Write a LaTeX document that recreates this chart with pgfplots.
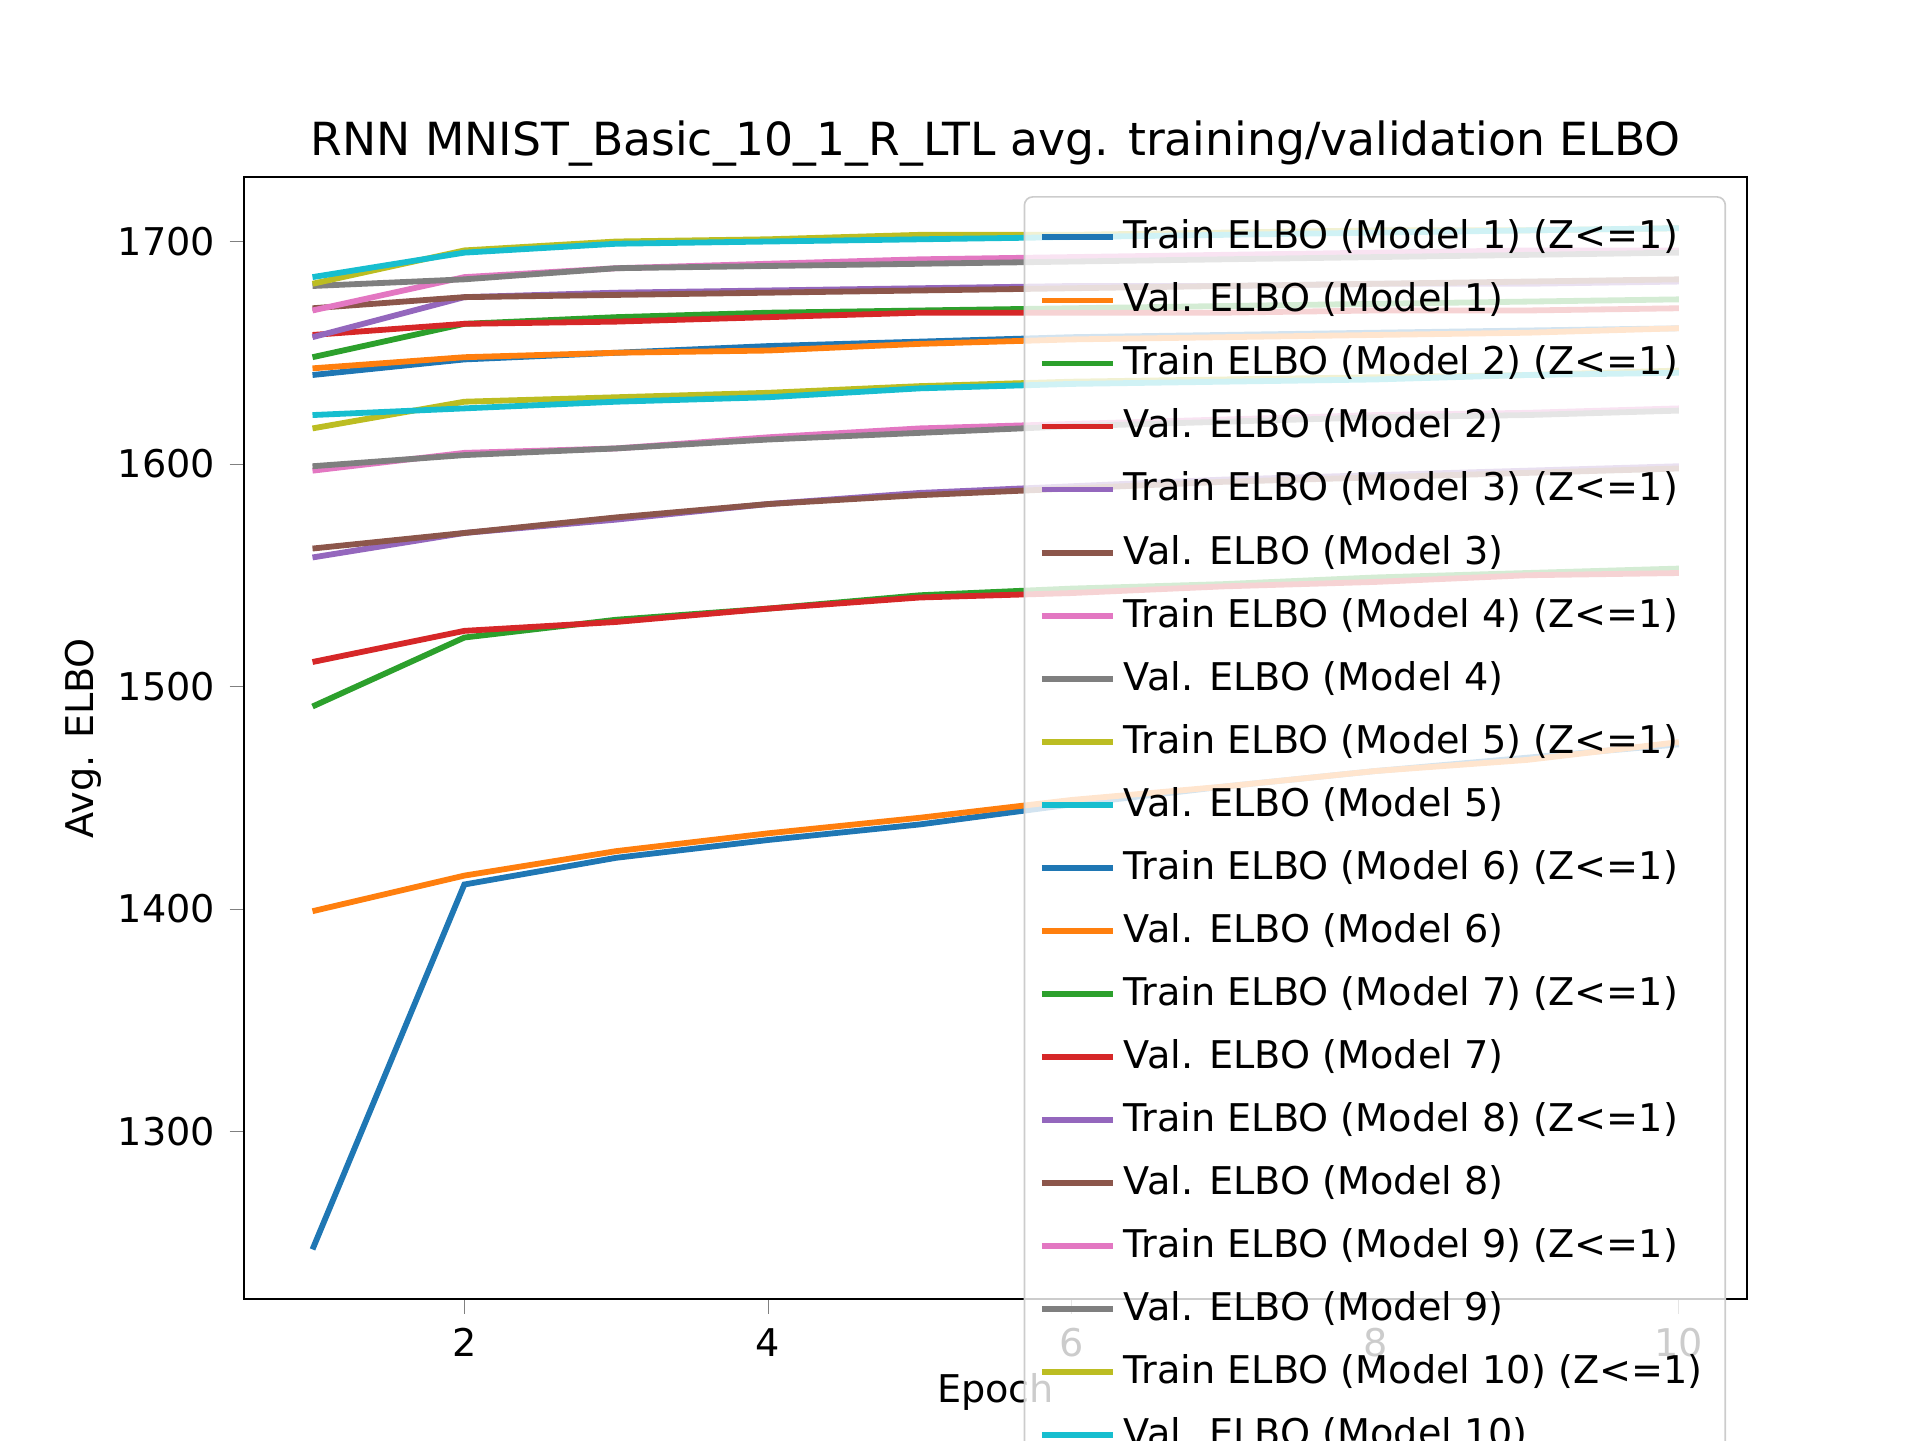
\documentclass[border=0pt]{standalone}
\usepackage{fontspec}
\setmainfont{DejaVu Sans}
\usepackage{pgfplots}
\pgfplotsset{compat=1.18}
\definecolor{c0}{HTML}{1F77B4}\definecolor{c1}{HTML}{FF7F0E}\definecolor{c2}{HTML}{2CA02C}
\definecolor{c3}{HTML}{D62728}\definecolor{c4}{HTML}{9467BD}\definecolor{c5}{HTML}{8C564B}
\definecolor{c6}{HTML}{E377C2}\definecolor{c7}{HTML}{7F7F7F}\definecolor{c8}{HTML}{BCBD22}
\definecolor{c9}{HTML}{17BECF}
\begin{document}
\begin{tikzpicture}
\begin{axis}[name=ax, scale only axis, width=5.01in, height=3.74in,
 xmin=0.55, xmax=10.45, ymin=1224.7, ymax=1729,
 xtick={2,4,6,8,10}, ytick={1300,1400,1500,1600,1700},
 /pgf/number format/assume math mode=true,
 /pgf/number format/1000 sep={},
 ticklabel style={font=\fontsize{9.2}{11}\selectfont},
 tick align=outside, tick pos=left, major tick length=3.5pt,
 title={RNN MNIST\_Basic\_10\_1\_R\_LTL avg. training/validation ELBO},
 title style={font=\fontsize{11}{13}\selectfont, yshift=-7pt},
 xlabel={Epoch}, ylabel={Avg. ELBO},
 xlabel style={yshift=3pt}, ylabel style={yshift=-3pt},
 label style={font=\fontsize{9.2}{11}\selectfont},
 every axis plot/.append style={line width=1.4pt},
 legend style={at={(0.986,0.983)}, anchor=north east, font=\fontsize{9.2}{11}\selectfont,
   fill=white, fill opacity=0.8, text opacity=1, draw=black!20, rounded corners=2pt,
   row sep=2.7pt, inner sep=3.5pt},
 legend cell align=left,
 legend image code/.code={\draw[#1] (0cm,0cm) -- (0.6cm,0cm);},
]
\addplot[c0] coordinates {(1,1640)(2,1647)(3,1650)(4,1653)(5,1655)(6,1657)(7,1658)(8,1659)(9,1660)(10,1661)};
\addlegendentry{Train ELBO (Model 1) (Z<=1)}
\addplot[c1] coordinates {(1,1643)(2,1648)(3,1650)(4,1651)(5,1654)(6,1656)(7,1657)(8,1658)(9,1659)(10,1661)};
\addlegendentry{Val. ELBO (Model 1)}
\addplot[c2] coordinates {(1,1648)(2,1663)(3,1666)(4,1668)(5,1669)(6,1670)(7,1671)(8,1672)(9,1673)(10,1674)};
\addlegendentry{Train ELBO (Model 2) (Z<=1)}
\addplot[c3] coordinates {(1,1658)(2,1663)(3,1664)(4,1666)(5,1668)(6,1668)(7,1668)(8,1669)(9,1669)(10,1670)};
\addlegendentry{Val. ELBO (Model 2)}
\addplot[c4] coordinates {(1,1657)(2,1675)(3,1677)(4,1678)(5,1679)(6,1680)(7,1680)(8,1681)(9,1681)(10,1682)};
\addlegendentry{Train ELBO (Model 3) (Z<=1)}
\addplot[c5] coordinates {(1,1670)(2,1675)(3,1676)(4,1677)(5,1678)(6,1679)(7,1680)(8,1681)(9,1682)(10,1683)};
\addlegendentry{Val. ELBO (Model 3)}
\addplot[c6] coordinates {(1,1669)(2,1684)(3,1688)(4,1690)(5,1692)(6,1693)(7,1694)(8,1695)(9,1696)(10,1696)};
\addlegendentry{Train ELBO (Model 4) (Z<=1)}
\addplot[c7] coordinates {(1,1680)(2,1683)(3,1688)(4,1689)(5,1690)(6,1691)(7,1692)(8,1693)(9,1694)(10,1695)};
\addlegendentry{Val. ELBO (Model 4)}
\addplot[c8] coordinates {(1,1681)(2,1696)(3,1700)(4,1701)(5,1703)(6,1703)(7,1704)(8,1705)(9,1705)(10,1706)};
\addlegendentry{Train ELBO (Model 5) (Z<=1)}
\addplot[c9] coordinates {(1,1684)(2,1695)(3,1699)(4,1700)(5,1701)(6,1702)(7,1703)(8,1704)(9,1705)(10,1706)};
\addlegendentry{Val. ELBO (Model 5)}
\addplot[c0] coordinates {(1,1247)(2,1411)(3,1423)(4,1431)(5,1438)(6,1447)(7,1455)(8,1462)(9,1468)(10,1474)};
\addlegendentry{Train ELBO (Model 6) (Z<=1)}
\addplot[c1] coordinates {(1,1399)(2,1415)(3,1426)(4,1434)(5,1441)(6,1449)(7,1455)(8,1462)(9,1467)(10,1475)};
\addlegendentry{Val. ELBO (Model 6)}
\addplot[c2] coordinates {(1,1491)(2,1522)(3,1530)(4,1535)(5,1541)(6,1544)(7,1546)(8,1549)(9,1551)(10,1553)};
\addlegendentry{Train ELBO (Model 7) (Z<=1)}
\addplot[c3] coordinates {(1,1511)(2,1525)(3,1529)(4,1535)(5,1540)(6,1542)(7,1545)(8,1547)(9,1550)(10,1551)};
\addlegendentry{Val. ELBO (Model 7)}
\addplot[c4] coordinates {(1,1558)(2,1569)(3,1575)(4,1582)(5,1587)(6,1590)(7,1593)(8,1595)(9,1597)(10,1599)};
\addlegendentry{Train ELBO (Model 8) (Z<=1)}
\addplot[c5] coordinates {(1,1562)(2,1569)(3,1576)(4,1582)(5,1586)(6,1589)(7,1592)(8,1594)(9,1596)(10,1598)};
\addlegendentry{Val. ELBO (Model 8)}
\addplot[c6] coordinates {(1,1597)(2,1605)(3,1607)(4,1612)(5,1616)(6,1618)(7,1620)(8,1622)(9,1623)(10,1625)};
\addlegendentry{Train ELBO (Model 9) (Z<=1)}
\addplot[c7] coordinates {(1,1599)(2,1604)(3,1607)(4,1611)(5,1614)(6,1617)(7,1619)(8,1621)(9,1622)(10,1624)};
\addlegendentry{Val. ELBO (Model 9)}
\addplot[c8] coordinates {(1,1616)(2,1628)(3,1630)(4,1632)(5,1635)(6,1637)(7,1638)(8,1639)(9,1640)(10,1642)};
\addlegendentry{Train ELBO (Model 10) (Z<=1)}
\addplot[c9] coordinates {(1,1622)(2,1625)(3,1628)(4,1630)(5,1634)(6,1636)(7,1637)(8,1638)(9,1640)(10,1641)};
\addlegendentry{Val. ELBO (Model 10)}
\end{axis}
\pgfresetboundingbox
\path ([shift={(-0.814in,-0.47in)}]ax.south west) rectangle ++(6.4in,4.8in);
\end{tikzpicture}
\end{document}
